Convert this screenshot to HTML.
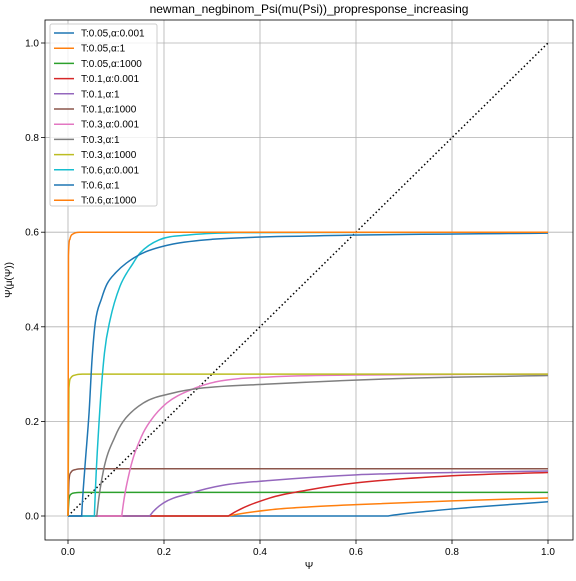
<!DOCTYPE html>
<html><head><meta charset="utf-8"><style>
body{margin:0;background:#fff;font-family:"Liberation Sans","DejaVu Sans",sans-serif}
svg text{font-family:"Liberation Sans","DejaVu Sans",sans-serif;fill:#000}
</style></head><body>
<svg id="c" width="576" height="576" xmlns="http://www.w3.org/2000/svg"></svg>
<script>
const seriesNames=["T:0.05,α:0.001","T:0.05,α:1","T:0.05,α:1000","T:0.1,α:0.001","T:0.1,α:1","T:0.1,α:1000","T:0.3,α:0.001","T:0.3,α:1","T:0.3,α:1000","T:0.6,α:0.001","T:0.6,α:1","T:0.6,α:1000"];
const colors=["#1f77b4","#ff7f0e","#2ca02c","#d62728","#9467bd","#8c564b","#e377c2","#7f7f7f","#bcbd22","#17becf","#1f77b4","#ff7f0e"];
const xs0=[0,0.667,0.75,0.85,1], ys0=[0,0,0.01,0.019,0.03];
const xs1=[0,0.334,0.42,0.5,0.6,0.8,1], ys1=[0,0,0.013,0.019,0.024,0.032,0.038];
const xs2=[0,0.002,0.006,0.015,0.03,1], ys2=[0,0.035,0.046,0.049,0.05,0.05];
const xs3=[0,0.334,0.42,0.5,0.6,0.8,1], ys3=[0,0,0.038,0.055,0.07,0.085,0.092];
const xs4=[0,0.17,0.198,0.254,0.323,0.42,0.6,0.8,1], ys4=[0,0,0.027,0.048,0.065,0.075,0.087,0.092,0.095];
const xs5=[0,0.002,0.006,0.015,0.03,1], ys5=[0,0.075,0.092,0.098,0.1,0.1];
const xs6=[0,0.112,0.129,0.153,0.171,0.206,0.254,0.31,0.42,0.6,1], ys6=[0,0,0.097,0.168,0.2,0.239,0.266,0.284,0.294,0.298,0.3];
const xs7=[0,0.06,0.074,0.098,0.115,0.157,0.219,0.275,0.42,0.7,1], ys7=[0,0,0.097,0.168,0.2,0.239,0.26,0.27,0.279,0.291,0.297];
const xs8=[0,0.002,0.006,0.015,0.03,1], ys8=[0,0.27,0.292,0.298,0.3,0.3];
const xs9=[0,0.055,0.065,0.076,0.0875,0.108,0.136,0.15,0.19,0.25,0.35,1], ys9=[0,0,0.203,0.345,0.414,0.485,0.535,0.556,0.584,0.594,0.599,0.6];
const xs10=[0,0.0285,0.035,0.044,0.05,0.057,0.07,0.081,0.1,0.122,0.156,0.219,0.3,0.5,1], ys10=[0,0,0.1,0.22,0.33,0.41,0.46,0.49,0.515,0.535,0.556,0.575,0.585,0.592,0.598];
const xs11=[0,0.001,0.004,0.01,0.025,1], ys11=[0,0.55,0.585,0.596,0.6,0.6];
const XS=[xs0,xs1,xs2,xs3,xs4,xs5,xs6,xs7,xs8,xs9,xs10,xs11];
const YS=[ys0,ys1,ys2,ys3,ys4,ys5,ys6,ys7,ys8,ys9,ys10,ys11];
const xTicks=[0,0.2,0.4,0.6,0.8,1.0], xTickLabels=["0.0","0.2","0.4","0.6","0.8","1.0"];
const yTicks=[0,0.2,0.4,0.6,0.8,1.0], yTickLabels=["0.0","0.2","0.4","0.6","0.8","1.0"];
const L=45,R=573,T=20,B=540;
const sx=v=>68+v*480, sy=v=>516-v*473;
const svg=document.getElementById('c');const NS="http://www.w3.org/2000/svg";
function mk(t,a,p){const e=document.createElementNS(NS,t);for(const k in a)e.setAttribute(k,a[k]);(p||svg).appendChild(e);return e;}
function monoPath(px,py){
  const n=px.length;const d=[],m=new Array(n).fill(0),kink=new Array(n).fill(false);
  for(let i=0;i<n-1;i++)d.push((py[i+1]-py[i])/(px[i+1]-px[i]));
  m[0]=d[0];m[n-1]=d[n-2];
  for(let i=1;i<n-1;i++){
    if(d[i-1]===0&&d[i]!==0){kink[i]=true;m[i]=d[i];}
    else m[i]=(d[i-1]*d[i]<=0)?0:(d[i-1]+d[i])/2;}
  let s='M'+px[0].toFixed(2)+','+py[0].toFixed(2);
  for(let i=0;i<n-1;i++){
    if(d[i]===0){s+='L'+px[i+1].toFixed(2)+','+py[i+1].toFixed(2);continue;}
    let m0=kink[i]?1.5*d[i]:m[i],m1=m[i+1];
    const a=m0/d[i],b=m1/d[i],q=a*a+b*b;if(q>9){const t=3/Math.sqrt(q);m0=t*a*d[i];m1=t*b*d[i];}
    const h=(px[i+1]-px[i])/3;
    s+='C'+(px[i]+h).toFixed(2)+','+(py[i]+m0*h).toFixed(2)+' '+(px[i+1]-h).toFixed(2)+','+(py[i+1]-m1*h).toFixed(2)+' '+px[i+1].toFixed(2)+','+py[i+1].toFixed(2);}
  return s;}
const grid=mk('g',{});


xTicks.forEach((v,i)=>{mk('line',{x1:sx(v),x2:sx(v),y1:T,y2:B,stroke:'#b0b0b0','stroke-width':0.8},grid);
mk('line',{x1:sx(v),x2:sx(v),y1:B,y2:B+4,stroke:'#000','stroke-width':0.8});
const t=mk('text',{x:sx(v),y:B+15,'font-size':10,'text-anchor':'middle'});t.textContent=xTickLabels[i];

});
yTicks.forEach((v,i)=>{mk('line',{x1:L,x2:R,y1:sy(v),y2:sy(v),stroke:'#b0b0b0','stroke-width':0.8},grid);
mk('line',{x1:L-4,x2:L,y1:sy(v),y2:sy(v),stroke:'#000','stroke-width':0.8});
const t=mk('text',{x:L-6,y:sy(v)+3.5,'font-size':10,'text-anchor':'end'});t.textContent=yTickLabels[i];

});
const diag=mk('line',{x1:sx(0),y1:sy(0),x2:sx(1),y2:sy(1),stroke:'#000','stroke-width':1.5,'stroke-dasharray':'1.5,2.5'});


XS.forEach((xs,i)=>{
const p=mk('path',{d:monoPath(xs.map(sx),YS[i].map(sy)),fill:'none',stroke:colors[i],'stroke-width':1.5});

});
const frame=mk('rect',{x:L,y:T,width:R-L,height:B-T,fill:'none',stroke:'#000','stroke-width':0.8});


const lg=mk('g',{});


mk('rect',{x:50,y:24,width:107,height:182,rx:2,fill:'#fff','fill-opacity':0.8,stroke:'#ccc'},lg);
seriesNames.forEach((n,i)=>{const y=33+i*15.2;
mk('line',{x1:54,x2:74,y1:y,y2:y,stroke:colors[i],'stroke-width':1.5},lg);
const t=mk('text',{x:81,y:y+3.5,'font-size':10},lg);t.textContent=n;

});
const ti=mk('text',{x:309,y:13,'font-size':12,'text-anchor':'middle'});ti.textContent="newman_negbinom_Psi(mu(Psi))_propresponse_increasing";


const xl=mk('text',{x:309,y:569,'font-size':10,'text-anchor':'middle'});xl.textContent="Ψ";


const yl=mk('text',{x:12,y:280,'font-size':10,'text-anchor':'middle',transform:'rotate(-90 12 280)'});yl.textContent="Ψ(μ(Ψ))";


</script>
</body></html>
